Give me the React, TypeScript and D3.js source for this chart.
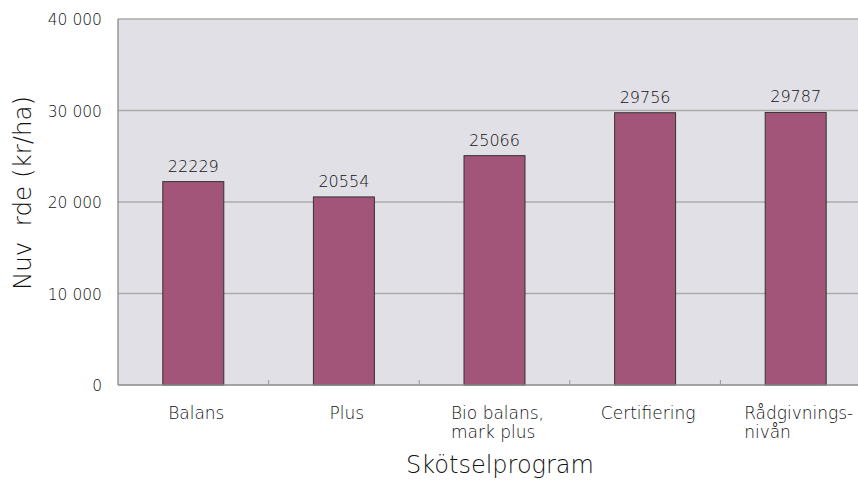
import React, { useEffect, useRef } from "react";
import * as d3 from "d3";

const categories = ["Balans", "Plus", "Bio balans,\nmark plus", "Certifiering", "Rådgivnings-\nnivån"];
const values = [22229, 20554, 25066, 29756, 29787];
const yTicks = [0, 10000, 20000, 30000, 40000];
const yTickLabels = ["0", "10 000", "20 000", "30 000", "40 000"];
const yTitle = "Nuv\u00a0\u00a0rde (kr/ha)";
const xTitle = "Skötselprogram";

const W = 858;
const H = 481;
const FONT = "'DejaVu Sans', sans-serif";

export default function App() {
  const ref = useRef<SVGSVGElement>(null);

  useEffect(() => {
    const svg = d3.select(ref.current);
    svg.selectAll("*").remove();

    const x = d3.scaleBand<string>().domain(categories).range([118, 871]).padding(0);
    const y = d3.scaleLinear().domain([0, 40000]).range([385, 19]);
    const barW = x.bandwidth() * 0.405;

    svg.append("rect")
      .attr("x", 118).attr("y", y(40000))
      .attr("width", W - 118).attr("height", y(0) - y(40000))
      .attr("fill", "#e1e0e6");

    svg.selectAll("line.grid").data(yTicks.slice(1)).enter().append("line")
      .attr("x1", 118).attr("x2", W)
      .attr("y1", (d) => y(d)).attr("y2", (d) => y(d))
      .attr("stroke", "#ababab").attr("stroke-width", 1.3);

    svg.append("line").attr("x1", 118).attr("x2", 118).attr("y1", y(40000)).attr("y2", y(0))
      .attr("stroke", "#8a8a8a").attr("stroke-width", 1.3);

    svg.selectAll("rect.bar").data(values).enter().append("rect")
      .attr("x", (_d, i) => (x(categories[i]) as number) + x.bandwidth() / 2 - barW / 2)
      .attr("y", (d) => y(d))
      .attr("width", barW)
      .attr("height", (d) => y(0) - y(d))
      .attr("fill", "#a25579")
      .attr("stroke", "#333")
      .attr("stroke-width", 1);

    svg.append("line").attr("x1", 118).attr("x2", W).attr("y1", y(0)).attr("y2", y(0))
      .attr("stroke", "#8a8a8a").attr("stroke-width", 1.3);
    svg.selectAll("line.xtick").data(categories.slice(1)).enter().append("line")
      .attr("x1", (d) => x(d) as number).attr("x2", (d) => x(d) as number)
      .attr("y1", y(0)).attr("y2", y(0) - 5)
      .attr("stroke", "#999").attr("stroke-width", 1);

    const txt = (sel: any, size: number) =>
      sel.attr("font-family", FONT).attr("font-size", size).attr("font-weight", 200).attr("fill", "#111");

    txt(svg.selectAll("text.val").data(values).enter().append("text")
      .attr("x", (_d: number, i: number) => (x(categories[i]) as number) + x.bandwidth() / 2)
      .attr("y", (d: number) => y(d) - 10)
      .attr("text-anchor", "middle"), 16)
      .text((d: number) => String(d));

    txt(svg.selectAll("text.ytick").data(yTicks).enter().append("text")
      .attr("x", 102).attr("y", (d: number) => y(d) + 6)
      .attr("text-anchor", "end"), 15.5)
      .text((_d: number, i: number) => yTickLabels[i]);

    categories.forEach((c) => {
      const lines = c.split("\n");
      const cx = (x(c) as number) + x.bandwidth() / 2 + 3;
      const t = txt(svg.append("text"), 17);
      lines.forEach((l, j) => {
        t.append("tspan").attr("y", 419 + j * 19).text(l);
      });
      if (lines.length === 1) {
        t.attr("text-anchor", "middle").selectAll("tspan").attr("x", cx);
      } else {
        let maxW = 0;
        t.selectAll("tspan").each(function (this: SVGTSpanElement) {
          maxW = Math.max(maxW, this.getComputedTextLength());
        });
        t.attr("text-anchor", "start").selectAll("tspan").attr("x", cx - maxW / 2);
      }
    });

    txt(svg.append("text")
      .attr("x", 500).attr("y", 473)
      .attr("text-anchor", "middle"), 24)
      .text(xTitle);

    txt(svg.append("text")
      .attr("transform", `translate(31, 193) rotate(-90)`)
      .attr("text-anchor", "middle"), 24.5)
      .style("white-space", "pre")
      .text(yTitle);
  }, []);

  return (
    <svg ref={ref} width={W} height={H}
      style={{ position: "absolute", left: 0, top: 0, display: "block", background: "#fff" }} />
  );
}
